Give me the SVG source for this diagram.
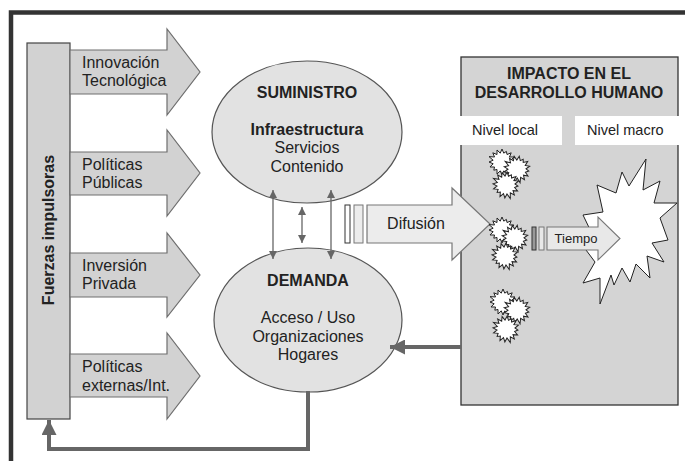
<svg xmlns="http://www.w3.org/2000/svg" width="685" height="461" viewBox="0 0 685 461">
<style>
text{font-family:"Liberation Sans",Arial,sans-serif;fill:#222}
.b{font-weight:bold}
.big{font-size:16px}
.mid{text-anchor:middle}
.barr{fill:#d2d2d2;stroke:#6e6e6e;stroke-width:1.2}
.ell{fill:#e2e2e2;stroke:#555;stroke-width:1.2}
.thin{stroke:#666;stroke-width:1.3;fill:none}
.thick{stroke:#666;stroke-width:4;fill:none}
.star{fill:#fff;stroke:#222;stroke-width:1}
</style>
<defs>
<marker id="ah" viewBox="0 0 10 10" refX="10" refY="5" markerWidth="9" markerHeight="8" markerUnits="userSpaceOnUse" orient="auto-start-reverse"><path d="M0,0 L10,5 L0,10 Z" fill="#666"/></marker>
<marker id="ahk" viewBox="0 0 10 10" refX="10" refY="5" markerWidth="15" markerHeight="15" markerUnits="userSpaceOnUse" orient="auto"><path d="M0,0 L10,5 L0,10 Z" fill="#666"/></marker>
<polygon id="sb" points="12,0 8.83,1.76 12.01,4.98 7.48,5 9.19,9.19 5,7.48 5.4,13 1.76,8.83 0,13 -1.76,8.83 -4.98,12.01 -5,7.48 -8.2,8.2 -7.48,5 -12.01,4.98 -8.83,1.76 -13,0 -8.83,-1.76 -13,-5.4 -7.48,-5 -9.19,-9.19 -5,-7.48 -4.98,-12.01 -1.76,-8.83 0,-13 1.76,-8.83 4.4,-10.6 5,-7.48 9.19,-9.19 7.48,-5 12.01,-4.98 8.83,-1.76"/>
</defs>
<rect width="685" height="461" fill="#fff"/>
<path d="M11,470 V12.5 H690" fill="none" stroke="#333" stroke-width="4.5"/>

<g id="fuerzas">
<rect x="27" y="43" width="43" height="376" fill="#d2d2d2" stroke="#444" stroke-width="1.2"/>
<text class="b big mid" transform="translate(54,230) rotate(-90)">Fuerzas impulsoras</text>
</g>
<g id="innovacion">
<polygon class="barr" points="70,50 167,50 167,29 200,72 167,115 167,94 70,94"/>
<text class="big" x="82" y="68">Innovación</text><text class="big" x="82" y="86">Tecnológica</text>
</g>
<g id="politicas-publicas">
<polygon class="barr" points="70,152 167,152 167,130 200,173 167,216 167,195 70,195"/>
<text class="big" x="82" y="170">Políticas</text><text class="big" x="82" y="188">Públicas</text>
</g>
<g id="inversion">
<polygon class="barr" points="70,253 167,253 167,233 200,275 167,317 167,297 70,297"/>
<text class="big" x="82" y="271">Inversión</text><text class="big" x="82" y="289">Privada</text>
</g>
<g id="politicas-externas">
<polygon class="barr" points="70,354 167,354 167,333 200,376 167,419 167,397 70,397"/>
<text class="big" x="82" y="372">Políticas</text><text class="big" x="82" y="391">externas/Int.</text>
</g>

<g id="impacto">
<rect x="461" y="57" width="217" height="348" fill="#d4d4d4" stroke="#333" stroke-width="1.3"/>
<text class="b big mid" x="569" y="79">IMPACTO EN EL</text>
<text class="b big mid" x="569" y="98">DESARROLLO HUMANO</text>
<rect x="459" y="116" width="103" height="29" fill="#fff"/>
<rect x="575" y="116" width="106" height="29" fill="#fff"/>
<text x="472" y="135" style="font-size:14.5px">Nivel local</text>
<text x="587" y="135" style="font-size:14.5px">Nivel macro</text>
</g>

<g id="suministro">
<ellipse class="ell" cx="307" cy="132" rx="95" ry="71"/>
<text class="b big mid" x="307" y="98">SUMINISTRO</text>
<text class="b big mid" x="307" y="135">Infraestructura</text>
<text class="big mid" x="307" y="153">Servicios</text>
<text class="big mid" x="307" y="172">Contenido</text>
</g>
<g id="demanda">
<ellipse class="ell" cx="308" cy="320" rx="94" ry="72"/>
<text class="b big mid" x="308" y="286">DEMANDA</text>
<text class="big mid" x="308" y="323">Acceso / Uso</text>
<text class="big mid" x="308" y="342">Organizaciones</text>
<text class="big mid" x="308" y="360">Hogares</text>
</g>

<g id="difusion">
<rect x="345" y="205" width="5" height="38" fill="#fff" stroke="#333" stroke-width="1"/>
<rect x="354" y="205" width="9" height="38" fill="#ececec" stroke="#777" stroke-width="1"/>
<polygon points="367,205 452,205 452,188 490,224 452,260 452,243 367,243" fill="#ececec" stroke="#777" stroke-width="1.2"/>
<text class="big mid" x="416" y="229">Difusión</text>
</g>

<g id="impacto-macro">
<polygon class="star" points="646,159 643,190 660,181 654,203 677,203 660,218 668,240 652,243 664,262 647,256 650,278 636,264 630,282 622,268 614,285 611,275 600,304 600,278 583,283 595,262 586,250 595,240 583,215 603,212 597,185 616,193 622,172 629,186"/>
</g>

<g id="impacto-local">
<use href="#sb" class="star" transform="translate(502,162)"/>
<use href="#sb" class="star" transform="translate(517,169) rotate(10)"/>
<use href="#sb" class="star" transform="translate(506,185) rotate(5)"/>
<use href="#sb" class="star" transform="translate(502,230)"/>
<use href="#sb" class="star" transform="translate(515,238) rotate(10)"/>
<use href="#sb" class="star" transform="translate(505,256) rotate(5)"/>
<use href="#sb" class="star" transform="translate(503,302)"/>
<use href="#sb" class="star" transform="translate(517,310) rotate(10)"/>
<use href="#sb" class="star" transform="translate(506,329) rotate(5)"/>
</g>

<g id="tiempo">
<rect x="532" y="227" width="4" height="23" fill="#999" stroke="#333" stroke-width="1"/>
<rect x="539" y="227" width="5" height="23" fill="#e8e8e8" stroke="#777" stroke-width="1"/>
<polygon points="547,227 598,227 598,217 620,238.5 598,260 598,250 547,250" fill="#e8e8e8" stroke="#777" stroke-width="1.1"/>
<text class="mid" x="576" y="243" style="font-size:13px">Tiempo</text>
</g>

<g id="connectors">
<line class="thin" x1="273" y1="190" x2="273" y2="259" marker-start="url(#ah)" marker-end="url(#ah)"/>
<line class="thin" x1="302" y1="207" x2="302" y2="243" marker-start="url(#ah)" marker-end="url(#ah)"/>
<line class="thin" x1="331" y1="190" x2="331" y2="259" marker-start="url(#ah)" marker-end="url(#ah)"/>
<path class="thick" d="M461,347 H390" marker-end="url(#ahk)"/>
<path class="thick" d="M308,391 V449 H49 V420" marker-end="url(#ahk)"/>
</g>
</svg>
